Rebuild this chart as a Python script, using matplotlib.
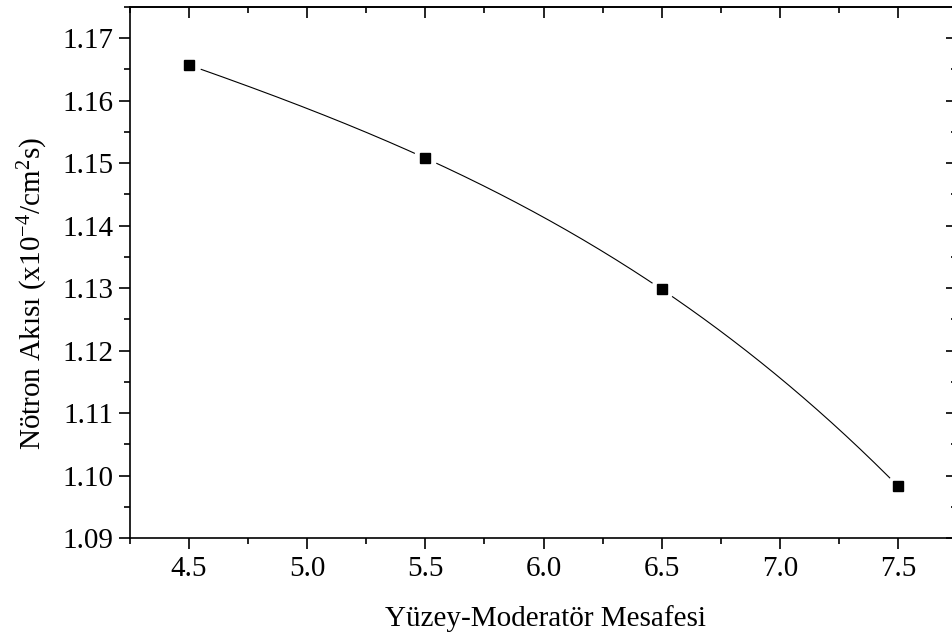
import numpy as np
import matplotlib
matplotlib.use('Agg')
import matplotlib.pyplot as plt
from matplotlib.ticker import MultipleLocator

plt.rcParams['font.family'] = ['Liberation Serif', 'DejaVu Serif']
plt.rcParams['mathtext.fontset'] = 'custom'
plt.rcParams['mathtext.rm'] = 'Liberation Serif'
plt.rcParams['mathtext.it'] = 'Liberation Serif:italic'

# Data
distance = [4.5, 5.5, 6.5, 7.5]
flux = [1.1657, 1.1508, 1.1298, 1.0983]

fig = plt.figure(figsize=(9.52, 6.4), dpi=100)
ax = fig.add_axes([0.1366, 0.1594, 0.8687, 0.8297])

# smooth connector through the points (cubic through 4 points)
coef = np.polyfit(distance, flux, 3)
xs = np.linspace(distance[0], distance[-1], 300)
ax.plot(xs, np.polyval(coef, xs), color='black', lw=0.8, zorder=1)

# white halo around symbols gives the gap in the line
ax.plot(distance, flux, linestyle='none', marker='o', ms=17,
        mfc='white', mec='none', zorder=2)
ax.plot(distance, flux, linestyle='none', marker='s', ms=7.5,
        mfc='black', mec='black', zorder=3)

ax.set_xlim(4.25, 7.75)
ax.set_ylim(1.09, 1.175)
ax.xaxis.set_major_locator(MultipleLocator(0.5))
ax.xaxis.set_minor_locator(MultipleLocator(0.25))
ax.yaxis.set_major_locator(MultipleLocator(0.01))
ax.yaxis.set_minor_locator(MultipleLocator(0.005))
ax.xaxis.set_major_formatter(plt.FormatStrFormatter('%.1f'))
ax.yaxis.set_major_formatter(plt.FormatStrFormatter('%.2f'))

for s in ax.spines.values():
    s.set_linewidth(1.2)

ax.tick_params(which='both', direction='out', width=1.2, labelsize=21,
               top=False, right=False)
ax.tick_params(which='major', length=8)
ax.tick_params(which='minor', length=4.5)
ax.tick_params(axis='x', pad=5)
ax.tick_params(axis='y', pad=4)

# mirrored ticks pointing inward on top and right
sec_x = ax.secondary_xaxis('top')
sec_x.xaxis.set_major_locator(MultipleLocator(0.5))
sec_x.xaxis.set_minor_locator(MultipleLocator(0.25))
sec_x.tick_params(which='both', direction='in', width=1.2, labeltop=False)
sec_x.tick_params(which='major', length=8)
sec_x.tick_params(which='minor', length=4.5)
sec_x.spines['top'].set_linewidth(1.2)

sec_y = ax.secondary_yaxis('right')
sec_y.yaxis.set_major_locator(MultipleLocator(0.01))
sec_y.yaxis.set_minor_locator(MultipleLocator(0.005))
sec_y.tick_params(which='both', direction='in', width=1.2, labelright=False)
sec_y.tick_params(which='major', length=8)
sec_y.tick_params(which='minor', length=4.5)

ax.set_xlabel('Yüzey-Moderatör Mesafesi', fontsize=21)
ax.set_ylabel('Nötron Akısı (x10$^{-4}$/cm$^{2}$s)', fontsize=21)
ax.xaxis.set_label_coords(0.502, -0.126)
ax.yaxis.set_label_coords(-0.097, 0.461)

fig.savefig('out.png', dpi=100)
